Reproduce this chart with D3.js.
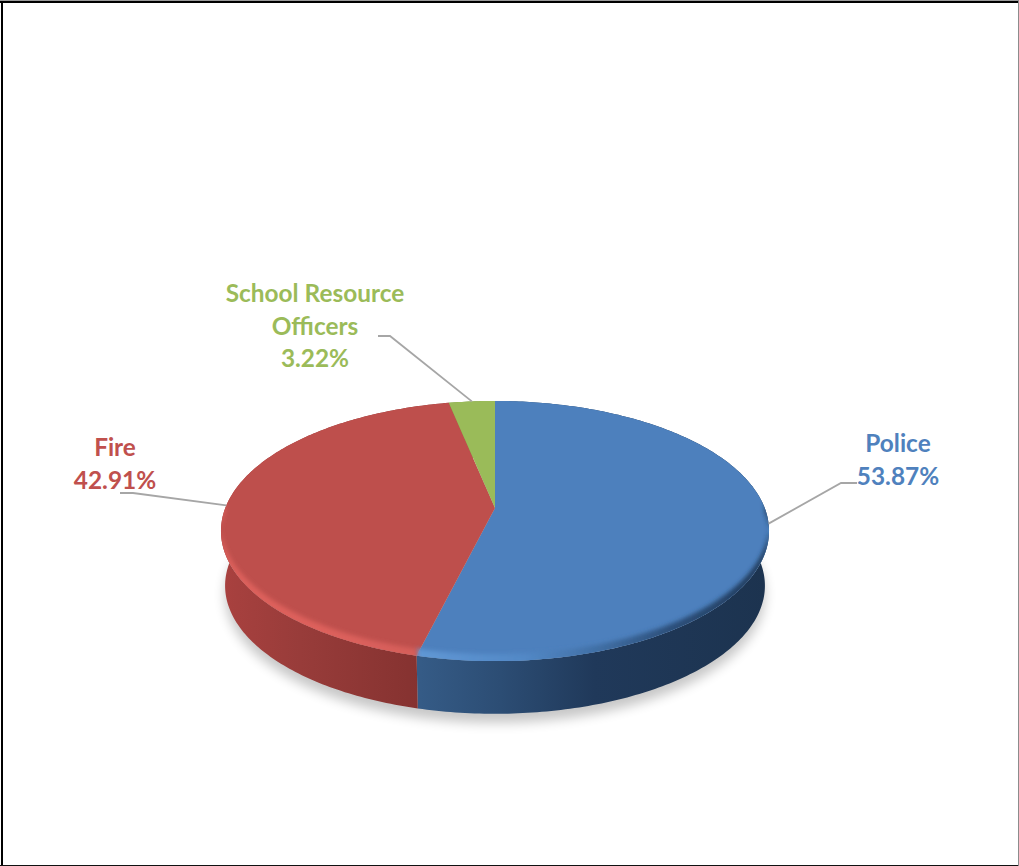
<!DOCTYPE html>
<html>
<head>
<meta charset="utf-8">
<style>
html, body { margin: 0; padding: 0; background: #fff; }
svg { display: block; }
text { font-family: Lato, "Open Sans", sans-serif; font-weight: 700; }
</style>
<script src="https://cdn.jsdelivr.net/npm/d3@7/dist/d3.min.js"></script>
</head>
<body>
<div id="chart"></div>
<script>
const categories = ["Police", "Fire", "School Resource Officers"];
const shares = [53.87, 42.91, 3.22];
const labelLines = [["Police"], ["Fire"], ["School Resource", "Officers"]];

const faceColors = ["#4d80bd", "#be4f4c", "#9abb59"];
const labelColors = ["#4f81bd", "#c0504d", "#9bbb59"];
const wallStops = [
  [[0, "#355b86"], [0.23, "#2c4d74"], [0.5, "#20395a"], [1, "#1c334f"]],
  [[0, "#a9413f"], [0.4, "#983c3a"], [1, "#853230"]],
  [[0, "#7a9a45"], [1, "#7a9a45"]]
];
const bevelStops = [
  [[0, "#6097d4"], [0.3, "#5288c6"], [0.5, "#4170a6"], [0.72, "#2c4f7a"], [1, "#1f3a5a"]],
  [[0, "#d55e5a"], [0.5, "#dd615c"], [1, "#dd615c"]],
  [[0, "#9abb59"], [1, "#9abb59"]]
];

// Label placement: centre x, first baseline, leader elbow and leader start
const labelLayout = [
  { x: 898, y: 452, elbow: [841, 483], start: [857, 483] },
  { x: 115, y: 456, elbow: [133, 493], start: [120, 493] },
  { x: 315, y: 302, elbow: [390, 336], start: [378, 336] }
];
const lineHeight = 32.5;

const width = 1019, height = 866;
const svg = d3.select("#chart").append("svg").attr("width", width).attr("height", height);
const defs = svg.append("defs");

// Page frame, heavier on the top and left
const frame = svg.append("g");
frame.append("rect").attr("width", width).attr("height", 1).attr("fill", "#9a9a9a");
frame.append("rect").attr("y", 1).attr("width", width).attr("height", 2).attr("fill", "#000");
frame.append("rect").attr("x", 1).attr("y", 1).attr("width", 2).attr("height", height).attr("fill", "#000");
frame.append("rect").attr("y", height - 1).attr("width", width).attr("height", 1).attr("fill", "#111");
frame.append("rect").attr("x", width - 1).attr("width", 1).attr("height", height).attr("fill", "#8c8c8c");

// Perspective projection of the unit disc on to the page
const centre = { x: 495, y: 508 };
const spread = { x: 269.7, y: 126 };
const tilt = -0.177;
const depth = 55;
const bevelRise = 11;

function project(theta, radius = 1, drop = 0, shrink = 1) {
  const X = Math.sin(theta) * radius, Y = -Math.cos(theta) * radius;
  const w = 1 + tilt * Y;
  return [centre.x + shrink * spread.x * X / w, centre.y + drop + shrink * spread.y * Y / w];
}

function arcPoints(a0, a1, radius, drop, shrink) {
  const n = Math.max(2, Math.ceil(Math.abs(a1 - a0) / 0.015));
  return d3.range(n + 1).map(i => project(a0 + (a1 - a0) * i / n, radius, drop, shrink));
}

const line = d3.line();
const pie = d3.pie().sort(null).value(d => d)(shares);
const TAU = Math.PI * 2;
const bottomShrink = 0.985;

const blur = (id, s) => defs.append("filter").attr("id", id)
  .attr("x", "-10%").attr("y", "-20%").attr("width", "120%").attr("height", "140%")
  .append("feGaussianBlur").attr("stdDeviation", s);
blur("shadowBlur", 6);
blur("bevelBlur", 2);

function gradient(id, stops, x1, x2) {
  const g = defs.append("linearGradient").attr("id", id)
    .attr("gradientUnits", "userSpaceOnUse")
    .attr("x1", x1).attr("x2", x2).attr("y1", 0).attr("y2", 0);
  stops.forEach(([o, c]) => g.append("stop").attr("offset", o).attr("stop-color", c));
}

// Soft shadow beneath the disc
svg.append("path")
  .attr("d", line(arcPoints(0, TAU, 1, depth + 9, bottomShrink)) + "Z")
  .attr("fill", "#000").attr("opacity", 0.22)
  .attr("filter", "url(#shadowBlur)");

// Side wall of each slice
const wallRanges = [[420, 769], [420, 221], [450, 495]];
svg.append("g").selectAll("path").data(pie).join("path")
  .each((d, i) => gradient("wall" + i, wallStops[i], i === 1 ? 221 : wallRanges[i][0], i === 1 ? 420 : wallRanges[i][1]))
  .attr("d", d => {
    const upper = arcPoints(d.startAngle, d.endAngle, 1, 0, 1);
    const lower = arcPoints(d.startAngle, d.endAngle, 1, depth, bottomShrink).reverse();
    return line(upper.concat(lower)) + "Z";
  })
  .attr("fill", (d, i) => `url(#wall${i})`);

// Top face
defs.append("clipPath").attr("id", "faceClip")
  .append("path").attr("d", line(arcPoints(0, TAU, 1, 0, 1)) + "Z");

svg.append("g").selectAll("path").data(pie).join("path")
  .attr("d", d => line([[centre.x, centre.y]].concat(arcPoints(d.startAngle, d.endAngle, 1, 0, 1))) + "Z")
  .attr("fill", (d, i) => faceColors[i]);

// Bevel: a crescent along the front rim that tapers away at the widest points
const bevel = svg.append("g").attr("clip-path", "url(#faceClip)");
pie.slice(0, 2).forEach((d, i) => {
  const a0 = i === 0 ? Math.PI / 2 : d.startAngle;
  const a1 = i === 0 ? d.endAngle : Math.PI * 1.5;
  const rim = arcPoints(a0, a1, 1, 4, 1);
  const inner = arcPoints(a0, a1, 1, 4 - bevelRise, 1).reverse();
  gradient("bevel" + i, bevelStops[i], wallRanges[i][0], wallRanges[i][1]);
  bevel.append("path")
    .attr("d", line(rim.concat(inner)) + "Z")
    .attr("fill", `url(#bevel${i})`)
    .attr("filter", "url(#bevelBlur)");
});

// Leader lines run from each label to the middle of its slice
svg.append("g").selectAll("path").data(pie).join("path")
  .attr("d", (d, i) => line([
    labelLayout[i].start,
    labelLayout[i].elbow,
    project((d.startAngle + d.endAngle) / 2)
  ]))
  .attr("fill", "none").attr("stroke", "#a6a6a6").attr("stroke-width", 1.8);

// Category and share labels
const fmt = d3.format(".2f");
const labels = svg.append("g").selectAll("text").data(categories).join("text")
  .attr("text-anchor", "middle")
  .attr("font-size", 24.4)
  .attr("fill", (d, i) => labelColors[i]);
labels.each(function (d, i) {
  const rows = labelLines[i].concat(fmt(shares[i]) + "%");
  d3.select(this).selectAll("tspan").data(rows).join("tspan")
    .attr("x", labelLayout[i].x)
    .attr("y", (r, j) => labelLayout[i].y + j * lineHeight)
    .text(r => r);
});
</script>
</body>
</html>
